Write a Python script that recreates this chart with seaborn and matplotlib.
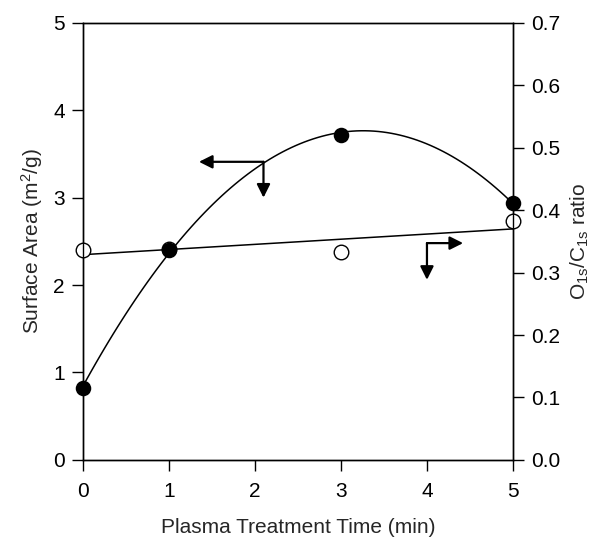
import matplotlib
matplotlib.use("Agg")
import matplotlib.pyplot as plt
import seaborn as sns

# plasma treatment time (min)
time = [0, 1, 3, 5]
# surface area (m2/g), filled circles, left axis
surface_area = [0.82, 2.40, 3.72, 2.94]
# O1s/C1s ratio, open circles, right axis
o_c_ratio = [0.336, 0.338, 0.333, 0.382]

x_ticks = [0, 1, 2, 3, 4, 5]
left_ticks = [0, 1, 2, 3, 4, 5]
right_ticks = [0.0, 0.1, 0.2, 0.3, 0.4, 0.5, 0.6, 0.7]

sns.set_style("ticks")
plt.rcParams['font.family'] = ['Liberation Sans', 'DejaVu Sans']
plt.rcParams['mathtext.default'] = 'regular'

fig = plt.figure(figsize=(6, 5.43), dpi=100)
ax = fig.add_axes([0.138, 0.153, 0.717, 0.805])
ax2 = ax.twinx()

# open circles + linear fit (right axis)
sns.regplot(x=time, y=o_c_ratio, order=1, ci=None, truncate=True, ax=ax2,
            color='black',
            scatter_kws=dict(s=110, facecolors='white', edgecolors='black',
                             linewidths=1, alpha=1, clip_on=False, zorder=3),
            line_kws=dict(lw=1.1, color='black'))

# filled circles + quadratic fit (left axis)
sns.regplot(x=time, y=surface_area, order=2, ci=None, truncate=True, ax=ax,
            color='black',
            scatter_kws=dict(s=125, color='black', alpha=1, linewidths=0,
                             clip_on=False, zorder=3),
            line_kws=dict(lw=1.1, color='black'))

# keep filled markers above the open ones
ax.set_zorder(ax2.get_zorder() + 1)
ax.patch.set_visible(False)

ax.set_xlim(0, 5)
ax.set_ylim(0, 5)
ax2.set_ylim(0, 0.7)
ax.set_xticks(x_ticks)
ax.set_yticks(left_ticks)
ax2.set_yticks(right_ticks)
ax2.set_yticklabels([f"{t:.1f}" for t in right_ticks])

for a in (ax, ax2):
    for s in a.spines.values():
        s.set_visible(True)
        s.set_linewidth(1)
        s.set_color('black')
    a.tick_params(direction='out', length=8, width=1, colors='black',
                  labelsize=15, pad=5)
ax.tick_params(axis='x', pad=8)

ax.set_xlabel("Plasma Treatment Time (min)", fontsize=15, labelpad=12)
ax.set_ylabel("Surface Area (m$^2$/g)", fontsize=15, labelpad=6)
ax2.set_ylabel("O$_{1s}$/C$_{1s}$ ratio", fontsize=15, labelpad=6)

# axis indicator arrows
arrow = dict(arrowstyle='-|>', color='black', lw=1.6, mutation_scale=20,
             shrinkA=0, shrinkB=0)
ax.annotate("", xy=(1.35, 3.41), xytext=(2.1, 3.41), arrowprops=arrow)
ax.annotate("", xy=(2.1, 3.0), xytext=(2.1, 3.41), arrowprops=arrow)
ax.annotate("", xy=(4.42, 2.48), xytext=(4.0, 2.48), arrowprops=arrow)
ax.annotate("", xy=(4.0, 2.06), xytext=(4.0, 2.48), arrowprops=arrow)

fig.savefig("out.png", dpi=100)
